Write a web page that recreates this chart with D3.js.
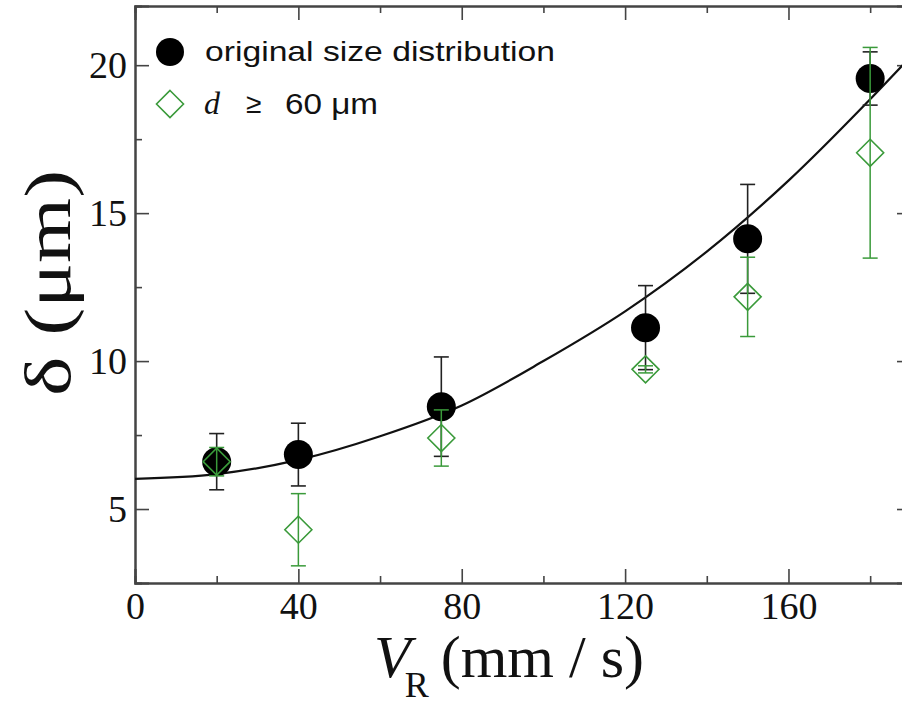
<!DOCTYPE html>
<html>
<head>
<meta charset="utf-8">
<script src="https://cdn.jsdelivr.net/npm/d3@7"></script>
<style>
  body { margin: 0; background: #fff; }
  svg { display: block; }
  .tick text { font-family: "Liberation Serif", "Times New Roman", serif; font-size: 38px; fill: #111; }
  .domain { stroke: #444; stroke-width: 2; }
  .tick line { stroke: #444; stroke-width: 1.6; }
</style>
</head>
<body>
<div id="chart"></div>
<script>
// speeds (mm/s)
var speeds = [20, 40, 75, 125, 150, 180];
// original size distribution
var origMean = [6.6, 6.84, 8.46, 11.13, 14.13, 19.55];
var origErr = [0.95, 1.06, 1.68, 1.42, 1.84, 0.9];
// d >= 60 um
var bigMean = [6.6, 4.3, 7.4, 9.72, 12.17, 17.04];
var bigErr = [0.48, 1.22, 0.95, 0.12, 1.34, 3.56];
// fitted curve
var fitV = [0, 20, 40, 60, 80, 100, 120, 140, 160, 180, 190];
var fitD = [6.02, 6.18, 6.66, 7.46, 8.5, 10.0, 11.68, 13.7, 16.1, 18.85, 20.3];

var xMajor = [0, 40, 80, 120, 160];
var xMinor = [20, 60, 100, 140, 180];
var yMajor = [5, 10, 15, 20];
var yMinor = [7.5, 12.5, 17.5];

var W = 902, H = 708;
var mLeft = 135, mRight = 911, mTop = 6, mBottom = 583;

var svg = d3.select('#chart').append('svg')
    .attr('width', W)
    .attr('height', H);

var x = d3.scaleLinear().domain([0, 190]).range([mLeft, mRight]);
var y = d3.scaleLinear().domain([2.5, 22]).range([mBottom, mTop]);

svg.append('defs').append('clipPath').attr('id', 'clip')
    .append('rect')
    .attr('x', mLeft).attr('y', mTop)
    .attr('width', mRight - mLeft).attr('height', mBottom - mTop);

// axes, all ticks pointing inward
function addAxis(axis, tx, ty) {
    return svg.append('g').attr('transform', 'translate(' + tx + ',' + ty + ')').call(axis);
}
addAxis(d3.axisBottom(x).tickValues(xMajor).tickSize(-14).tickPadding(9).tickFormat(d3.format('d')), 0, mBottom);
addAxis(d3.axisBottom(x).tickValues(xMinor).tickSize(-7).tickFormat(''), 0, mBottom);
addAxis(d3.axisTop(x).tickValues(xMajor).tickSize(-14).tickFormat(''), 0, mTop);
addAxis(d3.axisTop(x).tickValues(xMinor).tickSize(-7).tickFormat(''), 0, mTop);
addAxis(d3.axisLeft(y).tickValues(yMajor).tickSize(-14).tickPadding(8), mLeft, 0);
addAxis(d3.axisLeft(y).tickValues(yMinor).tickSize(-7).tickFormat(''), mLeft, 0);
addAxis(d3.axisRight(y).tickValues(yMajor).tickSize(-14).tickFormat(''), mRight, 0);
addAxis(d3.axisRight(y).tickValues(yMinor).tickSize(-7).tickFormat(''), mRight, 0);

var plot = svg.append('g').attr('clip-path', 'url(#clip)');

// fit curve
var line = d3.line()
    .x(function (d, i) { return x(fitV[i]); })
    .y(function (d) { return y(d); })
    .curve(d3.curveMonotoneX);
plot.append('path')
    .datum(fitD)
    .attr('d', line)
    .attr('fill', 'none')
    .attr('stroke', '#111')
    .attr('stroke-width', 2.2);

var green = '#3a9a3a';
var cap = 7.5;

function errorBars(means, errs, color, width) {
    var g = plot.append('g');
    speeds.forEach(function (v, i) {
        var cx = x(v), hi = y(means[i] + errs[i]), lo = y(means[i] - errs[i]);
        g.append('line').attr('x1', cx).attr('x2', cx).attr('y1', hi).attr('y2', lo)
            .attr('stroke', color).attr('stroke-width', width);
        [hi, lo].forEach(function (yy) {
            g.append('line').attr('x1', cx - cap).attr('x2', cx + cap).attr('y1', yy).attr('y2', yy)
                .attr('stroke', color).attr('stroke-width', width);
        });
    });
}

var diamond = function (cx, cy, r) {
    return 'M' + cx + ',' + (cy - r) + 'L' + (cx + r) + ',' + cy + 'L' + cx + ',' + (cy + r) + 'L' + (cx - r) + ',' + cy + 'Z';
};

// black series
errorBars(origMean, origErr, '#222', 1.6);
plot.selectAll('circle.orig')
    .data(origMean)
    .enter()
    .append('circle')
    .attr('class', 'orig')
    .attr('cx', function (d, i) { return x(speeds[i]); })
    .attr('cy', function (d) { return y(d); })
    .attr('r', 14.5)
    .attr('fill', '#000');

// green series
errorBars(bigMean, bigErr, green, 1.5);
plot.selectAll('path.big')
    .data(bigMean)
    .enter()
    .append('path')
    .attr('class', 'big')
    .attr('d', function (d, i) { return diamond(x(speeds[i]), y(d), 13.5); })
    .attr('fill', 'none')
    .attr('stroke', green)
    .attr('stroke-width', 1.6);

// legend
var leg = svg.append('g');
leg.append('circle').attr('cx', 170).attr('cy', 52).attr('r', 14).attr('fill', '#000');
leg.append('text').attr('x', 205).attr('y', 61)
    .attr('font-family', 'Liberation Sans, Arial, sans-serif').attr('font-size', 28).attr('fill', '#111')
    .attr('textLength', 350).attr('lengthAdjust', 'spacingAndGlyphs')
    .text('original size distribution');
leg.append('path').attr('d', diamond(170, 104, 13.5))
    .attr('fill', 'none').attr('stroke', green).attr('stroke-width', 1.6);
leg.append('text').attr('x', 204).attr('y', 114).attr('fill', '#111')
    .attr('font-family', 'Liberation Serif, serif').attr('font-style', 'italic').attr('font-size', 32)
    .text('d');
leg.append('text').attr('x', 246).attr('y', 113).attr('fill', '#111')
    .attr('font-family', 'Liberation Sans, Arial, sans-serif').attr('font-size', 28)
    .text('≥');
leg.append('text').attr('x', 285).attr('y', 114).attr('fill', '#111')
    .attr('font-family', 'Liberation Sans, Arial, sans-serif').attr('font-size', 29)
    .attr('textLength', 93).attr('lengthAdjust', 'spacingAndGlyphs')
    .text('60 μm');

// axis titles
svg.append('text')
    .attr('transform', 'translate(70,283) rotate(-90)')
    .attr('text-anchor', 'middle')
    .attr('font-family', 'Liberation Serif, Times New Roman, serif')
    .attr('font-size', 66).attr('fill', '#111')
    .attr('textLength', 226).attr('lengthAdjust', 'spacingAndGlyphs')
    .text('δ (μm)');

var xt = svg.append('text')
    .attr('x', 374).attr('y', 677)
    .attr('font-family', 'Liberation Serif, Times New Roman, serif')
    .attr('font-size', 60).attr('fill', '#111');
xt.append('tspan').attr('font-style', 'italic').text('V');
xt.append('tspan').attr('font-size', 36).attr('dy', 20).attr('dx', -6).text('R');
xt.append('tspan').attr('dy', -20).attr('dx', 12).text('(mm / s)');
</script>
</body>
</html>
